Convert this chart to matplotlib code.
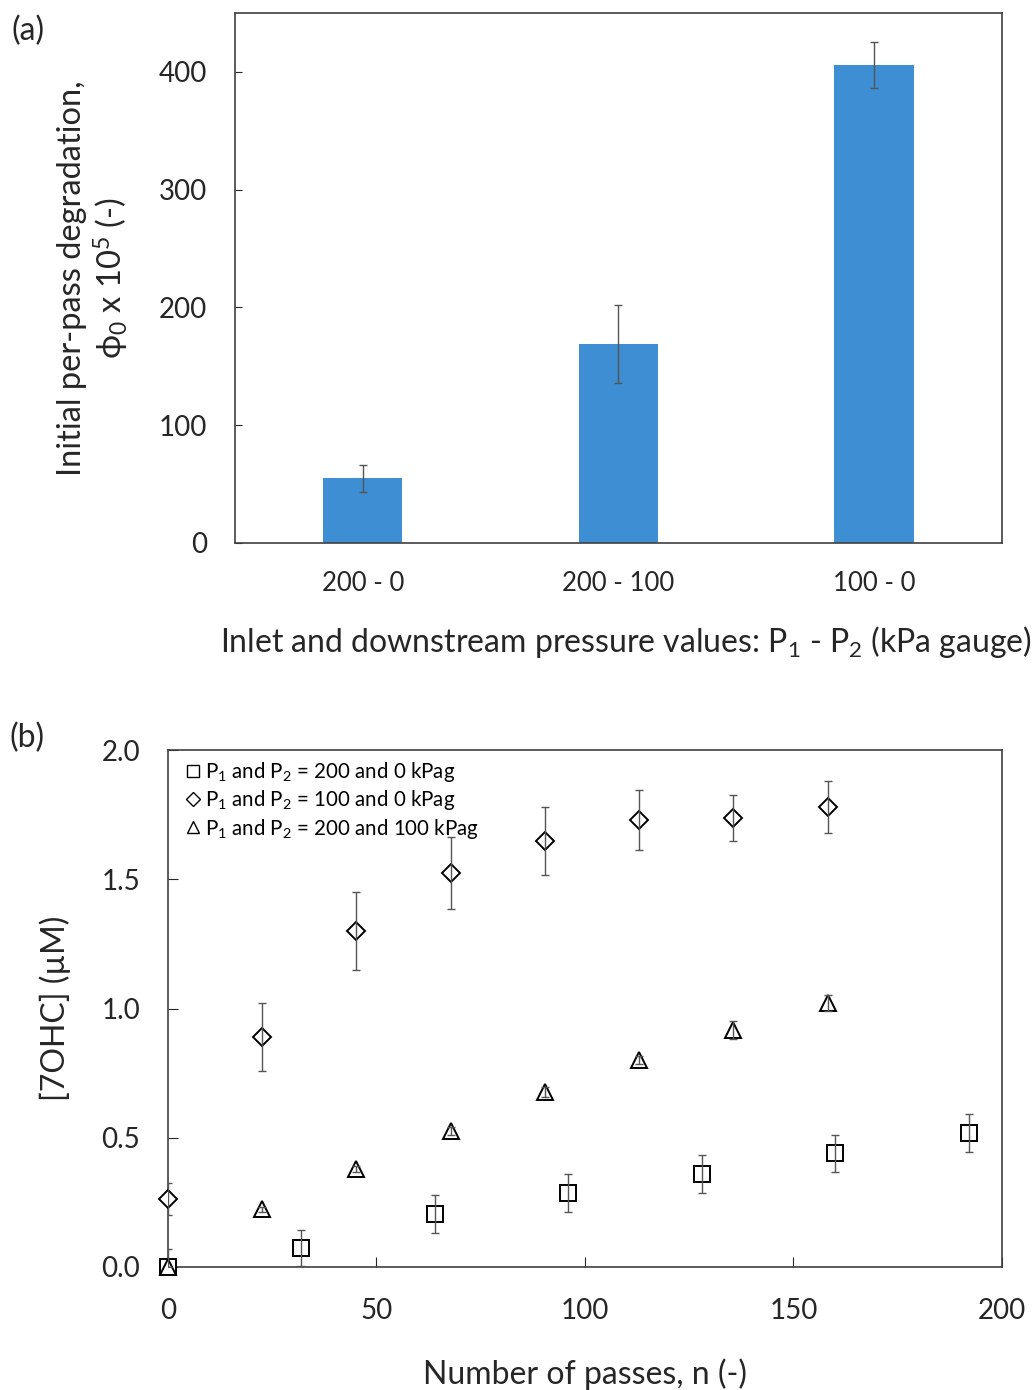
import numpy as np
import matplotlib.pyplot as plt
from matplotlib.lines import Line2D

plt.rcParams['font.family'] = ['Lato', 'DejaVu Sans']
plt.rcParams['mathtext.fontset'] = 'custom'
plt.rcParams['mathtext.rm'] = 'Lato'
plt.rcParams['mathtext.it'] = 'Lato:italic'

# (a) bar data
conditions = ['200 - 0', '200 - 100', '100 - 0']
phi0 = [55, 169, 406]
phi0_err = [11.5, 33, 19.5]

# (b) scatter data
n_sq = [0, 32, 64, 96, 128, 160, 192]
c_sq = [0.0, 0.075, 0.205, 0.286, 0.36, 0.44, 0.518]
e_sq = [0.07, 0.07, 0.072, 0.073, 0.073, 0.072, 0.073]

n_dm = [0, 22.6, 45.2, 67.8, 90.4, 113, 135.6, 158.2]
c_dm = [0.263, 0.89, 1.30, 1.524, 1.648, 1.729, 1.737, 1.78]
e_dm = [0.062, 0.13, 0.15, 0.14, 0.13, 0.116, 0.09, 0.10]

n_tr = [0, 22.6, 45.2, 67.8, 90.4, 113, 135.6, 158.2]
c_tr = [0.0, 0.224, 0.379, 0.526, 0.677, 0.80, 0.917, 1.021]
e_tr = [0.0, 0.01, 0.01, 0.015, 0.02, 0.015, 0.035, 0.03]

fig = plt.figure(figsize=(10.35, 13.9), dpi=100)
spine_col = '#404040'
txt_col = '#262626'

# ---- panel (a)
ax1 = fig.add_axes([0.227, 0.6094, 0.741, 0.3812])
x = np.arange(len(conditions))
ax1.bar(x, phi0, width=0.31, color='#3E8ED3', yerr=phi0_err,
        error_kw=dict(ecolor='#555555', elinewidth=1, capsize=3, capthick=1))
ax1.set_xlim(-0.5, 2.5)
ax1.set_ylim(0, 450)
ax1.set_yticks([0, 100, 200, 300, 400])
ax1.set_xticks(x)
ax1.set_xticklabels(conditions)
ax1.tick_params(axis='x', length=0, labelsize=18.5, pad=20, colors=txt_col)
ax1.tick_params(axis='y', direction='in', length=5, labelsize=20, pad=20, colors=txt_col)
for s in ax1.spines.values():
    s.set_color(spine_col)
    s.set_linewidth(1.2)
ax1.set_ylabel('Initial per-pass degradation,\n\u03d5$_0$ x 10$^5$ (-)', fontsize=23.5,
               linespacing=1.15, labelpad=20, color=txt_col)
fig.text(0.605, 0.538, 'Inlet and downstream pressure values: P$_1$ - P$_2$ (kPa gauge)',
         ha='center', va='center', fontsize=23, color=txt_col)
fig.text(0.011, 0.978, '(a)', fontsize=23, va='center', color=txt_col)

# ---- panel (b)
ax2 = fig.add_axes([0.1623, 0.0885, 0.8057, 0.3719])
mk = dict(ls='none', mfc='white', mec='black', mew=1.4, clip_on=False, zorder=3)
eb = dict(fmt='none', ecolor='#555555', elinewidth=1, capsize=3, capthick=1, zorder=4)
ax2.plot(n_sq, c_sq, marker='s', ms=11, **mk)
ax2.errorbar(n_sq, c_sq, yerr=e_sq, **eb)
ax2.plot(n_dm, c_dm, marker='D', ms=9, **mk)
ax2.errorbar(n_dm, c_dm, yerr=e_dm, **eb)
ax2.plot(n_tr, c_tr, marker='^', ms=11, **mk)
ax2.errorbar(n_tr, c_tr, yerr=e_tr, **eb)
ax2.set_xlim(0, 200)
ax2.set_ylim(0, 2.0)
ax2.set_xticks([0, 50, 100, 150, 200])
ax2.set_yticks([0, 0.5, 1.0, 1.5, 2.0])
ax2.set_yticklabels(['0.0', '0.5', '1.0', '1.5', '2.0'])
ax2.tick_params(direction='in', length=7, labelsize=20, colors=txt_col)
ax2.tick_params(axis='x', pad=22)
ax2.tick_params(axis='y', pad=20)
for s in ax2.spines.values():
    s.set_color(spine_col)
    s.set_linewidth(1.2)
ax2.set_xlabel('Number of passes, n (-)', fontsize=23, labelpad=25, color=txt_col)
ax2.set_ylabel('[7OHC] (µM)', fontsize=23, labelpad=22, color=txt_col)
fig.text(0.009, 0.469, '(b)', fontsize=23, va='center', color=txt_col)

handles = [
    Line2D([], [], ls='none', marker='s', ms=9, mfc='white', mec='black', mew=1),
    Line2D([], [], ls='none', marker='D', ms=7, mfc='white', mec='black', mew=1),
    Line2D([], [], ls='none', marker='^', ms=9, mfc='white', mec='black', mew=1),
]
labels = ['P$_1$ and P$_2$ = 200 and 0 kPag',
          'P$_1$ and P$_2$ = 100 and 0 kPag',
          'P$_1$ and P$_2$ = 200 and 100 kPag']
ax2.legend(handles, labels, loc='upper left', frameon=False, fontsize=14.8,
           handlelength=0.6, handletextpad=0.3, labelspacing=0.2,
           borderaxespad=0.1, bbox_to_anchor=(0.01, 1.0))

fig.savefig('out.png', dpi=100)
